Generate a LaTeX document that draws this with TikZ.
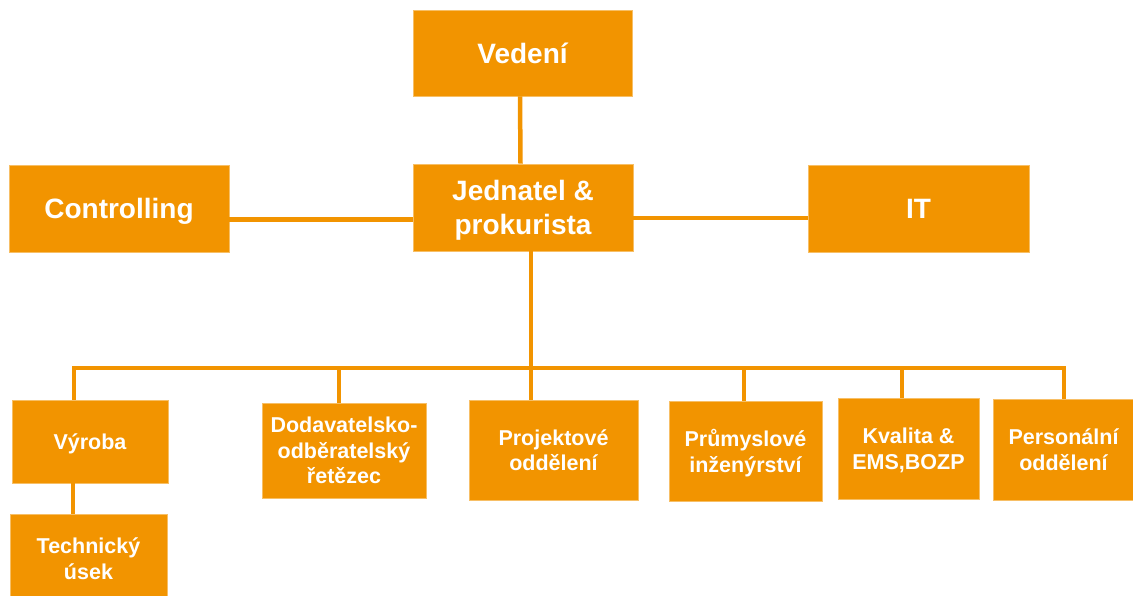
\documentclass[tikz,border=0pt]{standalone}
\usepackage{fontspec}
\setmainfont{Liberation Sans}
\definecolor{orgorange}{RGB}{242,148,0}
\begin{document}
\begin{tikzpicture}[x=1pt,y=-1pt,
  unit/.style={fill=orgorange, draw=orgorange!60!white, line width=0.6pt,
    text=white, font=\bfseries, align=center, inner sep=0pt, text depth=0pt},
  bigunit/.style={unit, font=\fontsize{28}{34}\selectfont\bfseries},
  smallunit/.style={unit, font=\fontsize{21.5}{25.5}\selectfont\bfseries},
  conn/.style={draw=orgorange, line width=4.5pt, line cap=rect}]
\useasboundingbox (0,0) rectangle (1133,596);

% top levels
\node[bigunit, minimum width=219pt, minimum height=86pt] (ved) at (522.5,53) {Vedení};
\node[bigunit, minimum width=220pt, minimum height=87pt] (jed) at (523,207.5) {Jednatel \&\\prokurista};
\node[bigunit, minimum width=220pt, minimum height=87pt] (ctl) at (119,208.5) {Controlling};
\node[bigunit, minimum width=221pt, minimum height=87pt] (it) at (918.5,208.5) {IT};

% departments
\node[smallunit, minimum width=156pt, minimum height=83pt] (vyr) at (90,441.5) {Výroba};
\node[smallunit, minimum width=157pt, minimum height=89pt] (tec) at (88.5,558.5) {Technický\\úsek};
\node[smallunit, minimum width=164pt, minimum height=95pt] (dod) at (344,450.5) {Dodavatelsko-\\odběratelský\\řetězec};
\node[smallunit, minimum width=169pt, minimum height=100pt] (prj) at (553.5,450) {Projektové\\oddělení};
\node[smallunit, minimum width=153pt, minimum height=100pt] (pri) at (745.5,451) {Průmyslové\\inženýrství};
\node[smallunit, minimum width=141pt, minimum height=101pt] (kva) at (908.5,448.5) {Kvalita \&\\EMS,BOZP};
\node[smallunit, minimum width=141pt, minimum height=101pt] (per) at (1063.5,449.5) {Personální\\oddělení};

% bus level
\coordinate (bus) at (0,368);
\coordinate (busL) at (74,368);
\coordinate (busR) at (1064,368);

% connectors between the upper boxes
\draw[conn, line cap=butt] ([xshift=-2.5pt]ved.south) -- ([xshift=-2.5pt]jed.north);
\draw[conn, line cap=butt] ([yshift=-11pt]ctl.east) -- ([yshift=-11pt]ctl.east -| jed.west);
\draw[conn, line cap=butt] ([yshift=-10.5pt]jed.east) -- ([yshift=-10.5pt]jed.east -| it.west);

% trunk and bus
\draw[conn, line cap=butt] ([xshift=8pt]jed.south) -- ([xshift=8pt]jed.south |- prj.north);
\draw[conn] (busL) -- (busR);

% drops to the departments
\draw[conn, line cap=butt] (busL) -- (busL |- vyr.north);
\draw[conn, line cap=butt] ([xshift=-5pt]dod.north |- bus) -- ([xshift=-5pt]dod.north);
\draw[conn, line cap=butt] ([xshift=-1.5pt]pri.north |- bus) -- ([xshift=-1.5pt]pri.north);
\draw[conn, line cap=butt] ([xshift=-6.5pt]kva.north |- bus) -- ([xshift=-6.5pt]kva.north);
\draw[conn, line cap=butt] (busR) -- (busR |- per.north);
\draw[conn, line cap=butt] ([xshift=-17pt]vyr.south) -- ([xshift=-17pt]vyr.south |- tec.north);
\end{tikzpicture}
\end{document}
